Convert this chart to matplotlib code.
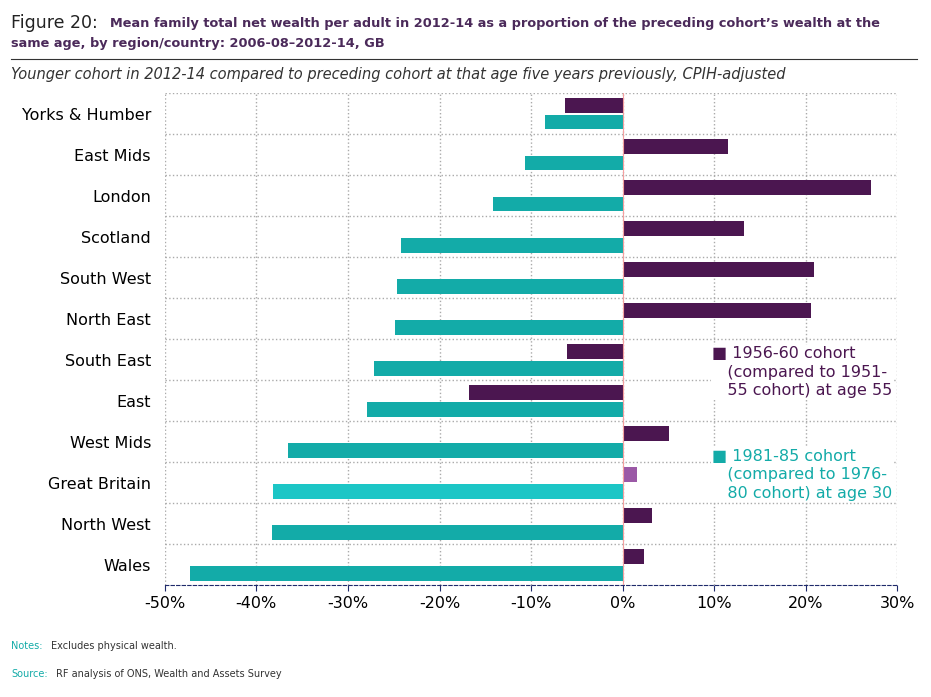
import numpy as np
import matplotlib.pyplot as plt
from matplotlib.ticker import FuncFormatter

regions = ["Yorks & Humber", "East Mids", "London", "Scotland", "South West", "North East",
           "South East", "East", "West Mids", "Great Britain", "North West", "Wales"]
cohort_55 = [-6.3, 11.5, 27.1, 13.2, 20.9, 20.6, -6.1, -16.8, 5.1, 1.6, 3.2, 2.3]
cohort_30 = [-8.5, -10.7, -14.2, -24.2, -24.7, -24.9, -27.2, -27.9, -36.6, -38.2, -38.3, -47.3]

purple = "#4b1650"
teal = "#13aba8"

fig = plt.figure(figsize=(9.31, 6.97), dpi=100)
ax = fig.add_axes([0.177, 0.16, 0.787, 0.706])

n = len(regions)
y = np.arange(n)
c55 = [("#9b59a6" if r == "Great Britain" else purple) for r in regions]
c30 = [("#1cc6c6" if r == "Great Britain" else teal) for r in regions]
ax.barh(y - 0.2, cohort_55, height=0.36, color=c55, zorder=3)
ax.barh(y + 0.2, cohort_30, height=0.36, color=c30, zorder=3)

ax.set_ylim(n - 0.5, -0.5)
ax.set_xlim(-50, 30)
ax.set_yticks(y)
ax.set_yticklabels(regions, fontsize=11.5)
ax.set_xticks(range(-50, 31, 10))
ax.xaxis.set_major_formatter(FuncFormatter(lambda v, p: f"{v:.0f}%"))
ax.tick_params(axis="x", labelsize=11.5, length=4, color="#1f2a6b")
ax.tick_params(axis="y", length=0, pad=10)
for v in range(-50, 31, 10):
    ax.axvline(v, color="#aaaaaa", ls=":", lw=1, zorder=1)
for b in np.arange(0.5, n - 1, 1):
    ax.axhline(b, color="#aaaaaa", ls=":", lw=1, zorder=1)
ax.axhline(-0.5, color="#aaaaaa", ls=":", lw=1, zorder=1)
ax.axvline(0, color="#f4a0a0", lw=0.8, zorder=4)
for s in ["top", "right", "left"]:
    ax.spines[s].set_visible(False)
ax.spines["bottom"].set_color("#1f2a6b")
ax.spines["bottom"].set_linestyle((0, (3, 2)))

ax.text(9.8, 6.3, "\u25a0 1956-60 cohort\n   (compared to 1951-\n   55 cohort) at age 55",
        color=purple, fontsize=11.5, va="center", linespacing=1.3, zorder=5,
        bbox=dict(facecolor="white", edgecolor="none", pad=1))
ax.text(9.8, 8.8, "\u25a0 1981-85 cohort\n   (compared to 1976-\n   80 cohort) at age 30",
        color=teal, fontsize=11.5, va="center", linespacing=1.3, zorder=5,
        bbox=dict(facecolor="white", edgecolor="none", pad=1))

fig.text(0.012, 0.967, "Figure 20:", fontsize=12.5, color="#222222", va="center")
fig.text(0.118, 0.967, "Mean family total net wealth per adult in 2012-14 as a proportion of the preceding cohort\u2019s wealth at the",
         fontsize=9.3, color="#4b2a5a", fontweight="bold", va="center")
fig.text(0.012, 0.938, "same age, by region/country: 2006-08\u20132012-14, GB",
         fontsize=9.3, color="#4b2a5a", fontweight="bold", va="center")
fig.add_artist(plt.Line2D([0.012, 0.985], [0.915, 0.915], color="#333333", lw=0.8))
fig.text(0.012, 0.893, "Younger cohort in 2012-14 compared to preceding cohort at that age five years previously, CPIH-adjusted",
         fontsize=10.5, style="italic", color="#333333", va="center")
fig.text(0.012, 0.073, "Notes:", fontsize=7, color="#13aba8", va="center")
fig.text(0.055, 0.073, "Excludes physical wealth.", fontsize=7, color="#333333", va="center")
fig.text(0.012, 0.033, "Source:", fontsize=7, color="#13aba8", va="center")
fig.text(0.06, 0.033, "RF analysis of ONS, Wealth and Assets Survey", fontsize=7, color="#333333", va="center")

fig.savefig("out.png", dpi=100)
